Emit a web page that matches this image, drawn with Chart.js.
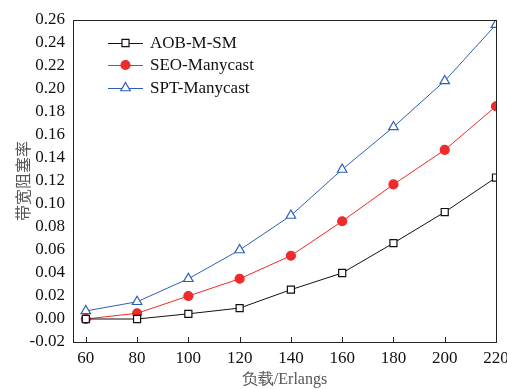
<!DOCTYPE html>
<html>
<head>
<meta charset="utf-8">
<script src="https://cdn.jsdelivr.net/npm/chart.js@4/dist/chart.umd.min.js"></script>
<style>
  html, body { margin: 0; padding: 0; background: #fff; }
  #wrap { width: 507px; height: 389px; }
</style>
</head>
<body>
<div id="wrap"><canvas id="chart"></canvas></div>
<script>
// loads in Erlangs
const loads = [60, 80, 100, 120, 140, 160, 180, 200, 220];
const aobValues = [0.000, 0.000, 0.0045, 0.0095, 0.0255, 0.040, 0.066, 0.093, 0.123];
const seoValues = [0.000, 0.005, 0.020, 0.035, 0.055, 0.085, 0.117, 0.147, 0.185];
const sptValues = [0.007, 0.015, 0.035, 0.060, 0.090, 0.130, 0.167, 0.207, 0.256];
const seriesNames = ['AOB-M-SM', 'SEO-Manycast', 'SPT-Manycast'];
const xTitle = '负载/Erlangs';
const yTitle = '带宽阻塞率';

const serif = '"Liberation Serif", "DejaVu Serif", serif';

function toPoints(values) {
    return loads.map((x, i) => ({x: x, y: values[i]}));
}

// box round the plot + inward x ticks
const frame = {
    id: 'frame',
    afterDraw(chart) {
        const ctx = chart.ctx;
        const a = chart.chartArea;
        const xs = chart.scales.x;
        ctx.save();
        ctx.strokeStyle = '#222';
        ctx.lineWidth = 1;
        ctx.strokeRect(a.left + 0.5, a.top + 0.5, a.right - a.left, a.bottom - a.top);
        loads.forEach((v) => {
            const px = Math.round(xs.getPixelForValue(v)) + 0.5;
            ctx.beginPath();
            ctx.moveTo(px, a.bottom);
            ctx.lineTo(px, a.bottom - 5);
            ctx.stroke();
        });
        ctx.restore();
    }
};

// legend: short line with the marker in the middle
const lineLegend = {
    id: 'lineLegend',
    afterDraw(chart) {
        const ctx = chart.ctx;
        const x0 = 108, x1 = 143, textX = 150;
        const rows = [43, 65, 88];
        ctx.save();
        chart.data.datasets.forEach((ds, i) => {
            const y = rows[i];
            ctx.strokeStyle = ds.borderColor;
            ctx.lineWidth = 1;
            ctx.beginPath();
            ctx.moveTo(x0, y + 0.5);
            ctx.lineTo(x1, y + 0.5);
            ctx.stroke();
            ctx.fillStyle = ds.pointBackgroundColor;
            ctx.strokeStyle = ds.pointBorderColor;
            ctx.lineWidth = 1.2;
            Chart.helpers.drawPoint(ctx, {
                pointStyle: ds.pointStyle,
                radius: ds.pointRadius,
                borderWidth: 1.2
            }, (x0 + x1) / 2, y);
            ctx.fillStyle = '#111';
            ctx.font = '17px ' + serif;
            ctx.textBaseline = 'middle';
            ctx.textAlign = 'left';
            ctx.fillText(ds.label, textX, y + 1);
        });
        ctx.restore();
    }
};

const datasets = [
    {
        label: seriesNames[0],
        data: toPoints(aobValues),
        borderColor: '#111111',
        backgroundColor: '#ffffff',
        pointStyle: 'rect',
        pointRadius: 5,
        pointBackgroundColor: '#ffffff',
        pointBorderColor: '#111111'
    },
    {
        label: seriesNames[1],
        data: toPoints(seoValues),
        borderColor: '#ee2a2a',
        backgroundColor: '#ee2a2a',
        pointStyle: 'circle',
        pointRadius: 4.5,
        pointBackgroundColor: '#ee2a2a',
        pointBorderColor: '#ee2a2a'
    },
    {
        label: seriesNames[2],
        data: toPoints(sptValues),
        borderColor: '#2f5fb3',
        backgroundColor: '#ffffff',
        pointStyle: 'triangle',
        pointRadius: 5.5,
        pointBackgroundColor: '#ffffff',
        pointBorderColor: '#2f5fb3'
    }
];

new Chart(document.getElementById('chart'), {
    type: 'line',
    data: {datasets: datasets},
    options: {
        responsive: true,
        maintainAspectRatio: false,
        animation: false,
        layout: {padding: {top: 20, right: 11, left: 0, bottom: 0}},
        elements: {
            line: {borderWidth: 1, tension: 0},
            point: {borderWidth: 1.2}
        },
        plugins: {
            legend: {display: false},
            tooltip: {enabled: false}
        },
        scales: {
            x: {
                type: 'linear',
                min: 55,
                max: 220,
                afterBuildTicks(scale) {
                    scale.ticks = loads.map((v) => ({value: v}));
                },
                afterFit(scale) {
                    scale.height = 47;
                    scale.paddingRight = 0;
                    scale.paddingLeft = 0;
                },
                grid: {display: false, drawTicks: false},
                border: {display: false},
                ticks: {
                    color: '#111',
                    font: {family: serif, size: 17},
                    padding: 6,
                    maxRotation: 0,
                    autoSkip: false
                },
                title: {
                    display: true,
                    text: xTitle,
                    color: '#555',
                    font: {family: serif, size: 16},
                    padding: {top: 0, bottom: 0}
                }
            },
            y: {
                min: -0.02,
                max: 0.26,
                afterFit(scale) {
                    scale.width = 73;
                },
                grid: {display: false, drawTicks: true, tickLength: 5, tickColor: '#222'},
                border: {display: false},
                ticks: {
                    stepSize: 0.02,
                    autoSkip: false,
                    color: '#111',
                    font: {family: serif, size: 17},
                    padding: 3,
                    callback: (v) => v.toFixed(2)
                },
                title: {
                    display: true,
                    text: yTitle,
                    color: '#555',
                    font: {family: '"Noto Sans CJK SC", serif', size: 16},
                    padding: {top: 13, bottom: 0}
                }
            }
        }
    },
    plugins: [frame, lineLegend]
});
</script>
</body>
</html>
